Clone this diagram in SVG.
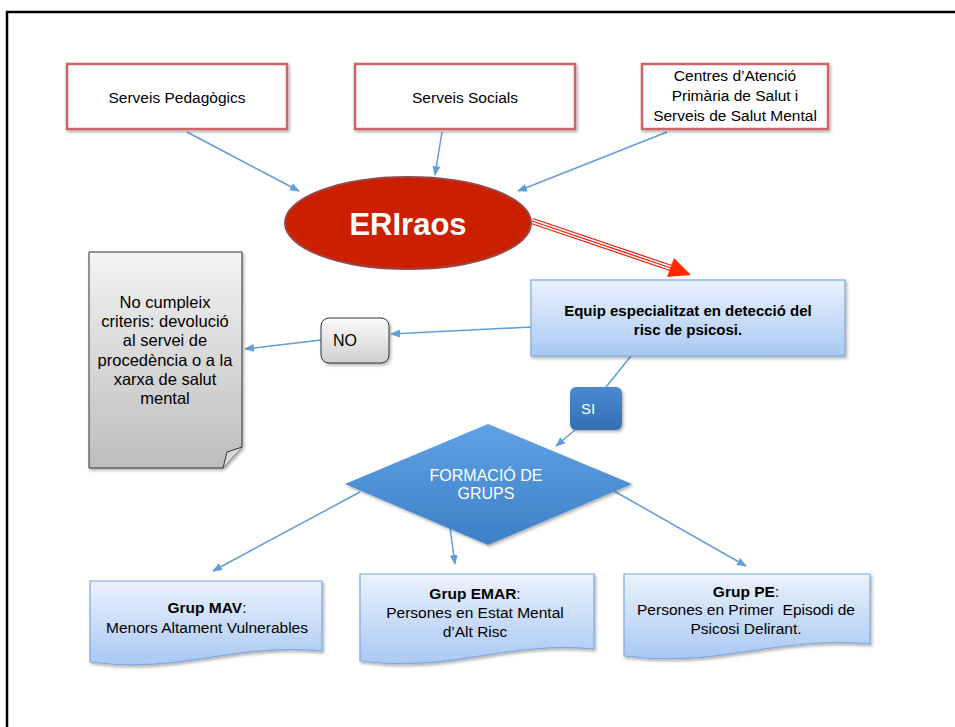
<svg xmlns="http://www.w3.org/2000/svg" width="955" height="727" viewBox="0 0 955 727">
<defs>
<style>
.t{font-family:"Liberation Sans",Arial,sans-serif;fill:#000;text-anchor:middle}
.top{font-size:15.5px}
.doc{font-size:16.5px}
.grp{font-size:15.5px}
.w{fill:#fff}
.conn{stroke:#5f9ddb;stroke-width:1.5;fill:none;marker-end:url(#ah)}
.redbox{fill:#fff;stroke:#d06464;stroke-width:2.5}
.bluebox{fill:url(#gBlue);stroke:#7fa8db;stroke-width:1.2}
</style>
<marker id="ah" markerWidth="10" markerHeight="8" refX="9" refY="4" orient="auto" markerUnits="userSpaceOnUse">
<path d="M0,0 L10,4 L0,8 Z" fill="#5f9ddb"/>
</marker>
<linearGradient id="gBlue" x1="0" y1="0" x2="0" y2="1">
<stop offset="0" stop-color="#ebf2fd"/>
<stop offset="1" stop-color="#a9c8f3"/>
</linearGradient>
<linearGradient id="gGray" x1="0" y1="0" x2="0" y2="1">
<stop offset="0" stop-color="#f3f3f3"/>
<stop offset="1" stop-color="#bdbdbd"/>
</linearGradient>
<linearGradient id="gNo" x1="0" y1="0" x2="0" y2="1">
<stop offset="0" stop-color="#fbfbfb"/>
<stop offset="1" stop-color="#cfcfcf"/>
</linearGradient>
<linearGradient id="gSi" x1="0" y1="0" x2="0" y2="1">
<stop offset="0" stop-color="#4a8ad2"/>
<stop offset="1" stop-color="#336fb2"/>
</linearGradient>
<linearGradient id="gDia" x1="0" y1="0" x2="0" y2="1">
<stop offset="0" stop-color="#5ea2e4"/>
<stop offset="1" stop-color="#3e7fc6"/>
</linearGradient>
<filter id="sh" x="-10%" y="-10%" width="130%" height="130%">
<feDropShadow dx="1.5" dy="2" stdDeviation="1.5" flood-color="#000" flood-opacity="0.3"/>
</filter>
</defs>
<rect width="955" height="727" fill="#fff"/>
<path d="M7,727 V12 H955" fill="none" stroke="#000" stroke-width="2.5"/>

<g id="connectors">
<line class="conn" x1="187" y1="132" x2="299" y2="191"/>
<line class="conn" x1="442" y1="132" x2="435" y2="175"/>
<line class="conn" x1="667" y1="132" x2="518" y2="191"/>
<line x1="532" y1="221" x2="671" y2="268" stroke="#e8230f" stroke-width="6.5"/>
<line x1="532" y1="221" x2="671" y2="268" stroke="#fff" stroke-width="4"/>
<line x1="532" y1="221" x2="671" y2="268" stroke="#e8230f" stroke-width="1.3"/>
<polygon points="691,275 667,277 674,258" fill="#ff2a00"/>
<line class="conn" x1="531" y1="327" x2="391" y2="334"/>
<line class="conn" x1="321" y1="340" x2="245" y2="349"/>
<line x1="631" y1="356" x2="606" y2="387" stroke="#5f9ddb" stroke-width="1.5"/>
<line class="conn" x1="575" y1="430" x2="556" y2="446"/>
<line class="conn" x1="360" y1="492" x2="213" y2="571"/>
<line class="conn" x1="450" y1="528" x2="455" y2="564"/>
<line class="conn" x1="614" y1="491" x2="746" y2="566"/>
</g>

<g id="n-pedagogics">
<rect class="redbox" x="67" y="64" width="220" height="65" filter="url(#sh)"/>
<text class="t top" x="177" y="103">Serveis Pedagògics</text>
</g>
<g id="n-socials">
<rect class="redbox" x="355" y="64" width="220" height="65" filter="url(#sh)"/>
<text class="t top" x="465" y="103">Serveis Socials</text>
</g>
<g id="n-centres">
<rect class="redbox" x="642" y="64" width="186" height="65" filter="url(#sh)"/>
<text class="t top" x="735" y="81">Centres d’Atenció</text>
<text class="t top" x="735" y="101">Primària de Salut i</text>
<text class="t top" x="735" y="121">Serveis de Salut Mental</text>
</g>

<g id="n-eriraos">
<ellipse cx="408" cy="223" rx="123" ry="46" fill="#cc1f00" stroke="#9b4545" stroke-width="2"/>
<text class="t w" x="408" y="235" font-size="31" font-weight="bold">ERIraos</text>
</g>

<g id="n-equip">
<rect class="bluebox" x="531" y="280" width="314" height="76" filter="url(#sh)"/>
<text class="t" x="688" y="316" font-size="15" font-weight="bold">Equip especialitzat en detecció del</text>
<text class="t" x="688" y="335" font-size="15" font-weight="bold">risc de psicosi.</text>
</g>

<g id="n-no">
<rect x="321" y="318" width="68" height="45" rx="8" fill="url(#gNo)" stroke="#333" stroke-width="1" filter="url(#sh)"/>
<text class="t" x="345" y="346" font-size="16">NO</text>
</g>

<g id="n-nocumpleix">
<path d="M89,252 H242 V447 L223,468 H89 Z" fill="url(#gGray)" stroke="#333" stroke-width="1" filter="url(#sh)"/>
<path d="M223,468 L227,452 L242,447" fill="#d8d8d8" stroke="#333" stroke-width="1"/>
<text class="t doc" x="165" y="308">No cumpleix</text>
<text class="t doc" x="165" y="327">criteris: devolució</text>
<text class="t doc" x="165" y="346">al servei de</text>
<text class="t doc" x="165" y="366">procedència o a la</text>
<text class="t doc" x="165" y="385">xarxa de salut</text>
<text class="t doc" x="165" y="404">mental</text>
</g>

<g id="n-si">
<rect x="570" y="387" width="52" height="43" rx="6" fill="url(#gSi)" filter="url(#sh)"/>
<text class="t w" x="588" y="414" font-size="15">SI</text>
</g>

<g id="n-formacio">
<polygon points="345,484 488,424 632,484 488,545" fill="url(#gDia)" filter="url(#sh)"/>
<text class="t w" x="486" y="481" font-size="16">FORMACIÓ DE</text>
<text class="t w" x="486" y="499" font-size="16">GRUPS</text>
</g>

<g id="n-mav">
<path class="bluebox" d="M90,581 H322 V651 C229,643 183,674 90,662 Z" filter="url(#sh)"/>
<text class="t grp" x="207" y="613"><tspan font-weight="bold">Grup MAV</tspan>:</text>
<text class="t grp" x="207" y="633">Menors Altament Vulnerables</text>
</g>
<g id="n-emar">
<path class="bluebox" d="M360,574 H594 V649 C500,641 454,673 360,661 Z" filter="url(#sh)"/>
<text class="t grp" x="475" y="599"><tspan font-weight="bold">Grup EMAR</tspan>:</text>
<text class="t grp" x="475" y="618">Persones en Estat Mental</text>
<text class="t grp" x="475" y="637">d’Alt Risc</text>
</g>
<g id="n-pe">
<path class="bluebox" d="M624,574 H870 V644 C772,636 722,668 624,656 Z" filter="url(#sh)"/>
<text class="t grp" x="746" y="597"><tspan font-weight="bold">Grup PE</tspan>:</text>
<text class="t grp" x="746" y="615" xml:space="preserve">Persones en Primer  Episodi de</text>
<text class="t grp" x="746" y="634">Psicosi Delirant.</text>
</g>
</svg>
